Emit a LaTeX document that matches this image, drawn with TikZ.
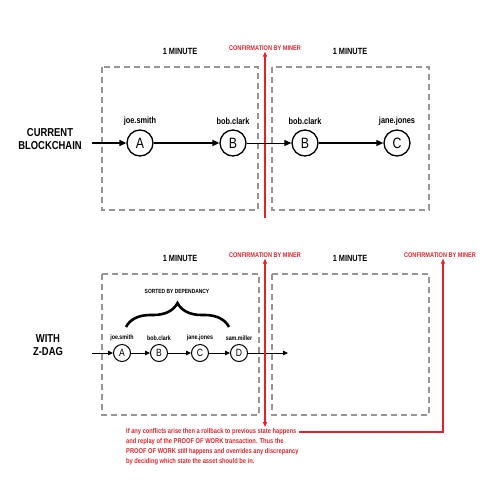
\documentclass[tikz,border=0pt]{standalone}
\usepackage{fontspec}
\setmainfont{Liberation Sans}[FakeStretch=0.82]
\usetikzlibrary{arrows.meta,decorations.pathreplacing}
\definecolor{minerred}{RGB}{226,34,42}
\definecolor{boxgray}{RGB}{150,150,150}

\begin{document}
\begin{tikzpicture}[x=1pt,y=-1pt,
  tx/.style={circle,draw,line width=1.3pt,minimum size=26pt,inner sep=0pt,font=\fontsize{15}{15}\selectfont},
  smalltx/.style={circle,draw,line width=1pt,minimum size=17pt,inner sep=0pt,font=\fontsize{10.5}{10.5}\selectfont},
  user/.style={font=\bfseries\fontsize{9}{9}\selectfont},
  smalluser/.style={font=\bfseries\fontsize{6.5}{6.5}\selectfont},
  title/.style={font=\bfseries\fontsize{9}{9}\selectfont},
  side/.style={font=\bfseries\fontsize{11.5}{13}\selectfont,align=center},
  miner/.style={font=\bfseries\fontsize{6.8}{6.8}\selectfont,text=minerred,inner sep=1pt},
  block/.style={draw=boxgray,dash pattern=on 6pt off 4pt,line width=1.2pt},
  flow/.style={-{Triangle[length=7pt,width=6pt]},line width=1.3pt},
  thinflow/.style={-{Triangle[length=7pt,width=6pt]},line width=0.8pt},
  smallflow/.style={-{Triangle[length=5pt,width=4.5pt]},line width=0.9pt},
  minerline/.style={draw=minerred,line width=1.2pt},
  sortbrace/.style={decorate,decoration={brace,amplitude=24pt},line width=2.6pt}]
\useasboundingbox (0,0) rectangle (495,488);

%Current blockchain
  \node[side] (cur) at (50,139) {CURRENT\\BLOCKCHAIN};
  \draw[block] (102,67) rectangle (258,210);
  \draw[block] (272,67) rectangle (429,210);
  \node[title] (min1) at (180,51) {1 MINUTE};
  \node[title] (min2) at (350,51) {1 MINUTE};
  \node[miner] (conf1) at (265,48) {CONFIRMATION BY MINER};
  \coordinate (conf1end) at (265,218);
  \draw[minerline,-{Triangle[length=5pt,width=4pt]}] (conf1end) -- (conf1.south);
% transactions
  \node[tx] (A) at (140,143) {A};
  \node[tx] (B) at (233,143) {B};
  \node[tx] (Bb) at (305,143) {B};
  \node[tx] (C) at (397,143) {C};
  \node[user] at (140,121) {joe.smith};
  \node[user] at (233,121) {bob.clark};
  \node[user] at (305,121) {bob.clark};
  \node[user] at (397,121) {jane.jones};
  \coordinate (in1) at (92,143);
  \draw[flow] (in1) -- (A);
  \draw[flow] (A) -- (B);
  \draw[thinflow] (B) -- (Bb);
  \draw[flow] (Bb) -- (C);

%With Z-DAG
  \node[side] (dag) at (48,345) {WITH\\Z-DAG};
  \draw[block] (102,274) rectangle (259,415);
  \draw[block] (272,274) rectangle (429,415);
  \node[title] (min3) at (180,258) {1 MINUTE};
  \node[title] (min4) at (350,258) {1 MINUTE};
  \node[miner] (conf2) at (265,255) {CONFIRMATION BY MINER};
  \node[miner] (conf3) at (440,255) {CONFIRMATION BY MINER};
% sorted transactions
  \node[smalltx] (Ad) at (122,353) {A};
  \node[smalltx] (Bd) at (159,353) {B};
  \node[smalltx] (Cd) at (200,353) {C};
  \node[smalltx] (Dd) at (239,353) {D};
  \node[smalluser] at (122,338) {joe.smith};
  \node[smalluser] at (159,338) {bob.clark};
  \node[smalluser] at (200,338) {jane.jones};
  \node[smalluser] at (239,338) {sam.miller};
  \coordinate (in2) at (92,353);
  \coordinate (out2) at (288,353);
  \draw[smallflow] (in2) -- (Ad);
  \draw[smallflow] (Ad) -- (Bd);
  \draw[smallflow] (Bd) -- (Cd);
  \draw[smallflow] (Cd) -- (Dd);
  \draw[smallflow] (Dd) -- (out2);
  \draw[sortbrace] (126,327) -- (229,327);
  \node[font=\bfseries\fontsize{6}{6}\selectfont] (sorted) at (177,291) {SORTED BY DEPENDANCY};
% rollback note
  \node[miner,font=\bfseries\fontsize{7}{10}\selectfont,align=left,anchor=north west] (note) at (125,427)
    {If any conflicts arise then a rollback to previous state happens\\
     and replay of the PROOF OF WORK transaction. Thus the\\
     PROOF OF WORK still happens and overrides any discrepancy\\
     by deciding which state the asset should be in.};
  \coordinate (noteend) at (299,432);
  \coordinate (bend) at (443,432);
  \draw[minerline,{Triangle[length=5pt,width=4pt]}-{Triangle[length=5pt,width=4pt]}] (conf2.south) -- (note.north -| conf2);
  \draw[minerline,{Triangle[length=5pt,width=4pt]}-] (conf3.south -| bend) -- (bend) -- (noteend);
\end{tikzpicture}
\end{document}
